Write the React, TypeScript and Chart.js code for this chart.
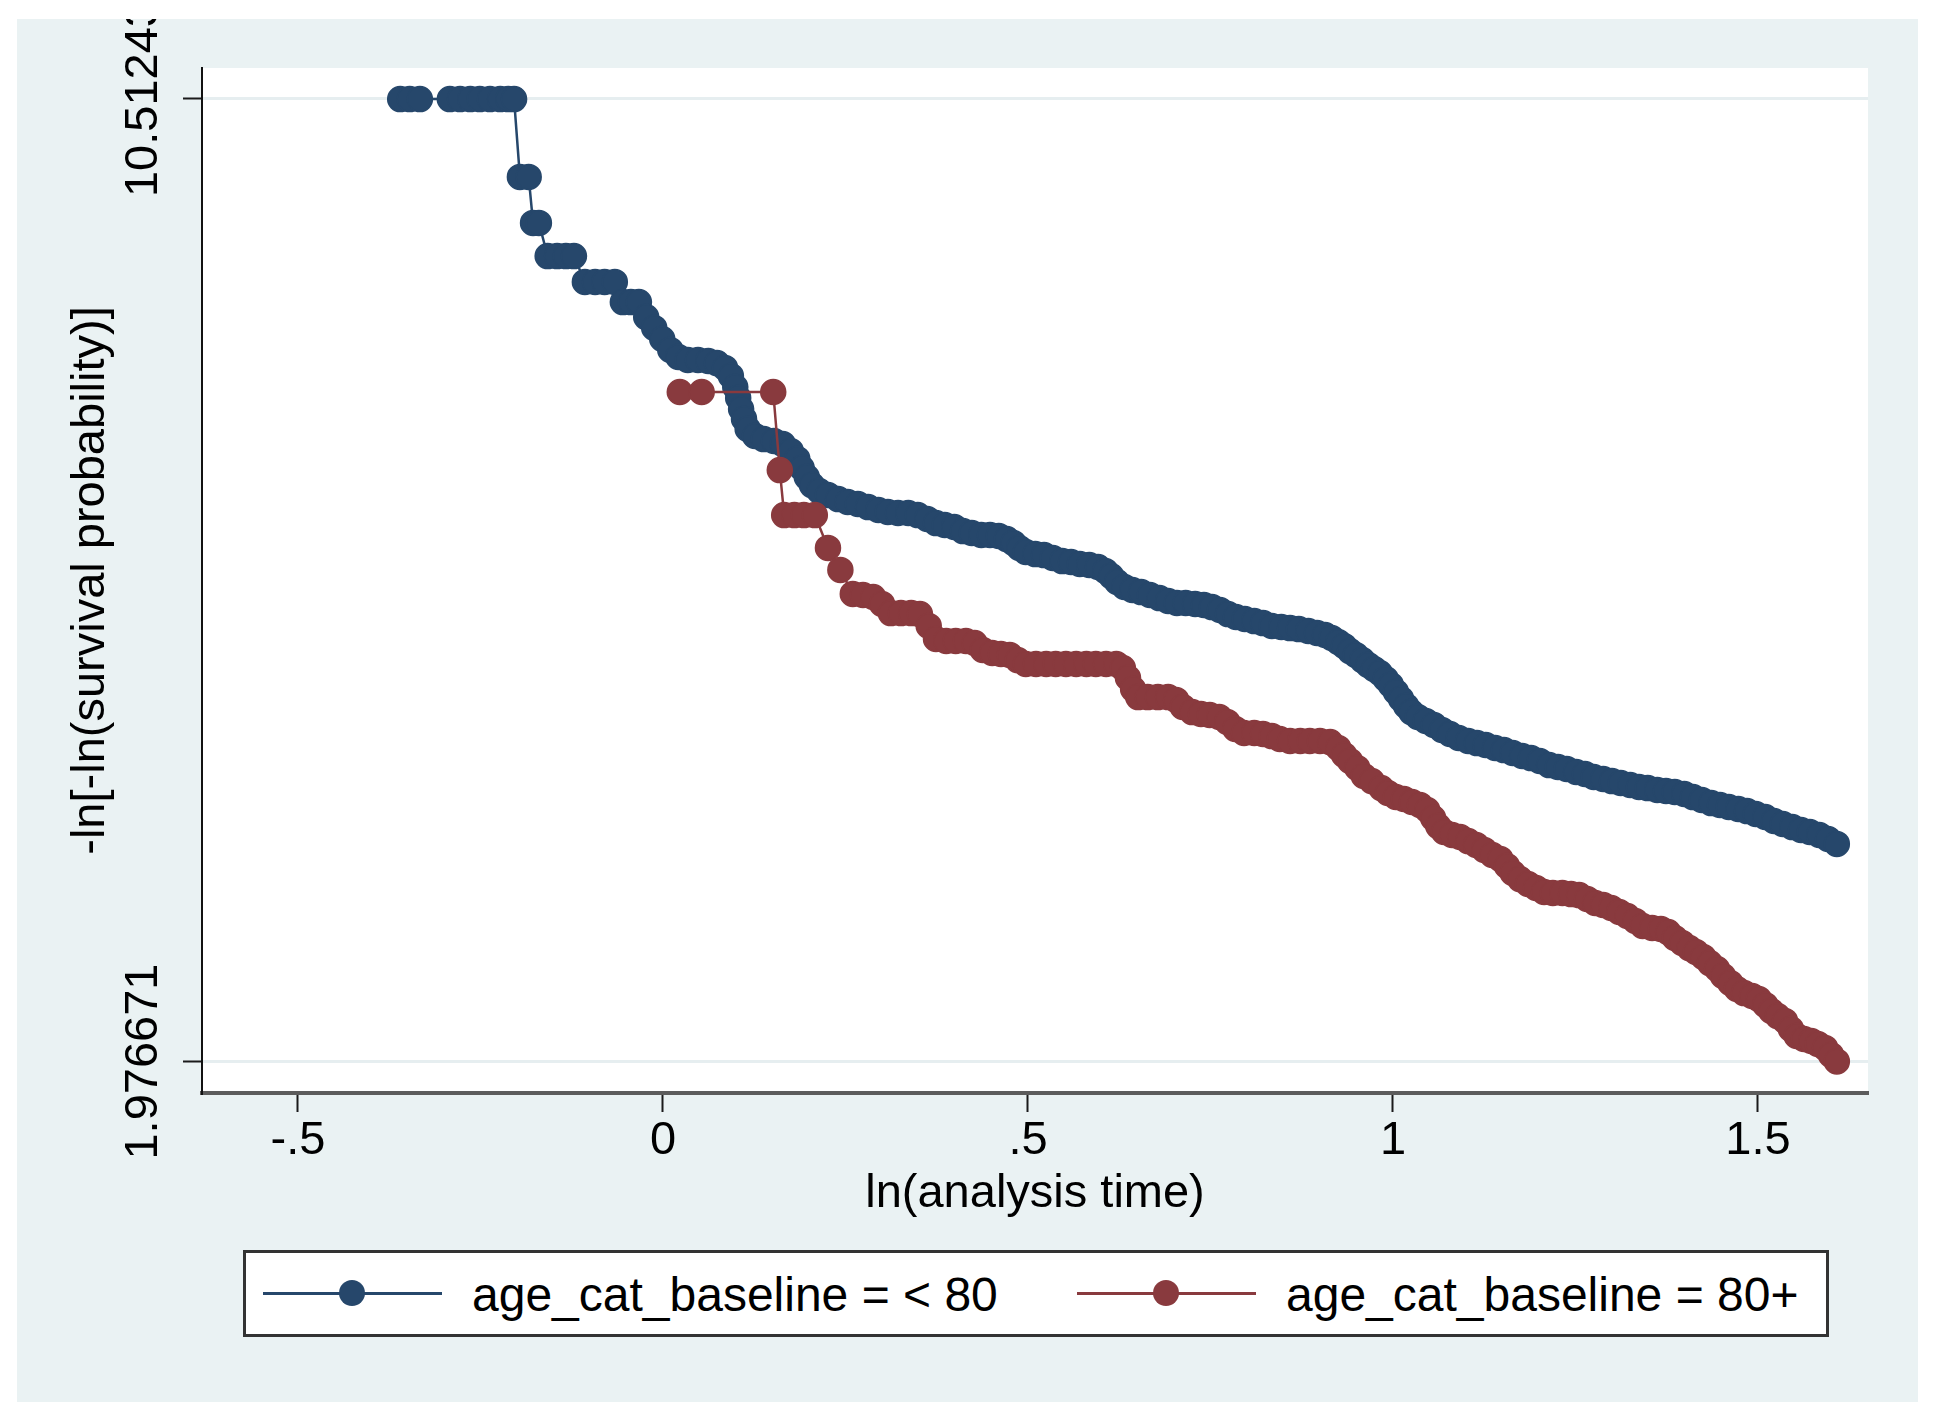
import { useEffect, useRef } from 'react';
import { Chart, registerables, Plugin } from 'chart.js';

Chart.register(...registerables);

// ln(analysis time) and -ln[-ln(S)], group age < 80
const blueX = [
  -0.36, -0.347, -0.333, -0.292, -0.278, -0.264, -0.251, -0.237, -0.223, -0.212,
  -0.204, -0.196, -0.184, -0.178, -0.17, -0.158, -0.145, -0.133, -0.122, -0.107,
  -0.093, -0.08, -0.066, -0.055, -0.044, -0.033,
  -0.023, -0.012, -0.001, 0.01, 0.021, 0.034, 0.048, 0.062, 0.074, 0.085,
  0.093, 0.099, 0.103, 0.107, 0.111, 0.116, 0.126, 0.138, 0.152, 0.164,
  0.175, 0.184, 0.19, 0.197, 0.204, 0.214, 0.226, 0.24, 0.253, 0.267,
  0.281, 0.295, 0.308, 0.322, 0.336, 0.349, 0.362, 0.374, 0.386, 0.399,
  0.411, 0.423, 0.436, 0.448, 0.46, 0.471, 0.48, 0.488, 0.497, 0.51,
  0.522, 0.534, 0.547, 0.559, 0.571, 0.584, 0.596, 0.606, 0.614, 0.622,
  0.632, 0.643, 0.655, 0.667, 0.68, 0.692, 0.704, 0.716, 0.729, 0.741,
  0.752, 0.763, 0.774, 0.785, 0.797, 0.81, 0.822, 0.834, 0.847, 0.859,
  0.871, 0.884, 0.896, 0.907, 0.916, 0.925, 0.933, 0.941, 0.949, 0.958,
  0.966, 0.974, 0.982, 0.99, 0.997, 1.004, 1.011, 1.018, 1.025, 1.034,
  1.045, 1.056, 1.067, 1.078, 1.09, 1.103, 1.115, 1.127, 1.14, 1.152,
  1.164, 1.177, 1.189, 1.201, 1.214, 1.226, 1.238, 1.251, 1.263, 1.275,
  1.288, 1.3, 1.312, 1.325, 1.337, 1.349, 1.362, 1.374, 1.386, 1.399,
  1.411, 1.423, 1.436, 1.448, 1.46, 1.473, 1.485, 1.497, 1.51, 1.522,
  1.534, 1.547, 1.559, 1.571, 1.584, 1.596, 1.608,
];
const blueY = [
  10.512, 10.512, 10.512, 10.512, 10.512, 10.512, 10.512, 10.512, 10.512, 10.512,
  10.512, 9.821, 9.821, 9.413, 9.413, 9.12, 9.12, 9.12, 9.12, 8.89,
  8.89, 8.89, 8.89, 8.712, 8.712, 8.712,
  8.579, 8.482, 8.384, 8.287, 8.225, 8.198, 8.198, 8.189, 8.171, 8.127,
  8.056, 7.958, 7.861, 7.763, 7.675, 7.586, 7.524, 7.497, 7.48, 7.453,
  7.391, 7.32, 7.24, 7.16, 7.089, 7.036, 7.001, 6.965, 6.939, 6.921,
  6.894, 6.868, 6.85, 6.841, 6.841, 6.823, 6.788, 6.752, 6.735, 6.717,
  6.681, 6.664, 6.646, 6.646, 6.637, 6.61, 6.575, 6.531, 6.495, 6.477,
  6.468, 6.442, 6.415, 6.407, 6.389, 6.38, 6.362, 6.327, 6.282, 6.229,
  6.185, 6.158, 6.14, 6.114, 6.087, 6.061, 6.043, 6.043, 6.034, 6.025,
  6.007, 5.981, 5.945, 5.919, 5.901, 5.883, 5.865, 5.839, 5.83, 5.821,
  5.812, 5.795, 5.777, 5.759, 5.733, 5.697, 5.662, 5.617, 5.582, 5.537,
  5.493, 5.458, 5.422, 5.369, 5.316, 5.254, 5.192, 5.13, 5.076, 5.032,
  4.997, 4.961, 4.917, 4.881, 4.846, 4.819, 4.801, 4.784, 4.757, 4.739,
  4.713, 4.686, 4.668, 4.642, 4.606, 4.589, 4.571, 4.544, 4.527, 4.5,
  4.482, 4.464, 4.447, 4.429, 4.411, 4.402, 4.385, 4.376, 4.367, 4.349,
  4.322, 4.296, 4.269, 4.252, 4.234, 4.216, 4.198, 4.172, 4.145, 4.11,
  4.083, 4.056, 4.03, 4.012, 3.986, 3.95, 3.906,
];

// group 80+
const redX = [
  0.023, 0.053, 0.151, 0.16, 0.166, 0.18, 0.193, 0.208, 0.226, 0.243,
  0.26, 0.274, 0.288, 0.3, 0.312, 0.326, 0.34, 0.352, 0.364, 0.374,
  0.388, 0.401, 0.415, 0.427, 0.438, 0.451, 0.463, 0.475, 0.486, 0.497,
  0.511, 0.525, 0.538, 0.552, 0.566, 0.58, 0.593, 0.607, 0.621, 0.63,
  0.637, 0.644, 0.651, 0.664, 0.678, 0.692, 0.703, 0.712, 0.725, 0.737,
  0.749, 0.762, 0.773, 0.784, 0.796, 0.81, 0.822, 0.834, 0.845, 0.859,
  0.873, 0.886, 0.9, 0.914, 0.925, 0.933, 0.941, 0.951, 0.96, 0.971,
  0.984, 0.993, 1.004, 1.015, 1.026, 1.037, 1.047, 1.055, 1.062, 1.07,
  1.081, 1.092, 1.103, 1.114, 1.125, 1.136, 1.147, 1.156, 1.164, 1.174,
  1.185, 1.196, 1.207, 1.219, 1.232, 1.244, 1.255, 1.266, 1.277, 1.288,
  1.299, 1.31, 1.321, 1.332, 1.342, 1.355, 1.367, 1.377, 1.386, 1.396,
  1.406, 1.415, 1.425, 1.434, 1.444, 1.452, 1.462, 1.471, 1.481, 1.492,
  1.501, 1.51, 1.518, 1.527, 1.537, 1.545, 1.553, 1.563, 1.573, 1.582,
  1.592, 1.6, 1.608,
];
const redY = [
  7.914, 7.914, 7.914, 7.222, 6.823, 6.823, 6.823, 6.823, 6.531, 6.336,
  6.123, 6.114, 6.096, 6.034, 5.954, 5.954, 5.954, 5.945, 5.839, 5.724,
  5.706, 5.706, 5.706, 5.688, 5.626, 5.6, 5.591, 5.582, 5.537, 5.502,
  5.502, 5.502, 5.502, 5.502, 5.502, 5.502, 5.502, 5.502, 5.502, 5.466,
  5.378, 5.28, 5.209, 5.209, 5.209, 5.209, 5.183, 5.121, 5.076, 5.059,
  5.05, 5.032, 4.988, 4.926, 4.89, 4.89, 4.881, 4.863, 4.837, 4.819,
  4.819, 4.819, 4.819, 4.81, 4.757, 4.695, 4.642, 4.58, 4.509, 4.464,
  4.402, 4.358, 4.323, 4.305, 4.278, 4.252, 4.207, 4.136, 4.065, 4.012,
  3.986, 3.968, 3.932, 3.897, 3.853, 3.808, 3.773, 3.711, 3.649, 3.595,
  3.551, 3.516, 3.48, 3.471, 3.471, 3.462, 3.453, 3.418, 3.383, 3.365,
  3.338, 3.303, 3.267, 3.223, 3.179, 3.161, 3.152, 3.125, 3.072, 3.028,
  2.983, 2.948, 2.904, 2.85, 2.797, 2.735, 2.673, 2.62, 2.584, 2.558,
  2.531, 2.478, 2.425, 2.38, 2.336, 2.265, 2.203, 2.177, 2.159, 2.132,
  2.097, 2.035, 1.977,
];

const xTicks = [-0.5, 0, 0.5, 1, 1.5];
const xTickLabels = ['-.5', '0', '.5', '1', '1.5'];
const yTicks = [1.976671, 10.51243];
const yTickLabels = ['1.976671', '10.51243'];

const seriesNames = ['age_cat_baseline = < 80', 'age_cat_baseline = 80+'];

const NAVY = '#26476B';
const MAROON = '#893A3E';
const FONT = "'Liberation Sans', Arial, Helvetica, sans-serif";

const plotBackground: Plugin<'scatter'> = {
  id: 'plotBackground',
  beforeDraw(chart) {
    const { ctx, chartArea } = chart;
    ctx.save();
    ctx.fillStyle = '#ffffff';
    ctx.fillRect(chartArea.left, chartArea.top, chartArea.width, chartArea.height);
    ctx.restore();
  },
};

function LegendItem({ left, color, label }: { left: number; color: string; label: string }) {
  return (
    <>
      <div style={{ position: 'absolute', left, top: 1291.5, width: 179, height: 3, background: color }} />
      <div
        style={{
          position: 'absolute',
          left: left + 89 - 13,
          top: 1293 - 13,
          width: 26,
          height: 26,
          borderRadius: '50%',
          background: color,
        }}
      />
      <div
        style={{
          position: 'absolute',
          left: left + 209,
          top: 1265,
          height: 60,
          lineHeight: '60px',
          fontSize: 48,
          fontFamily: FONT,
          color: '#000',
          whiteSpace: 'nowrap',
        }}
      >
        {label}
      </div>
    </>
  );
}

export default function App() {
  const canvasRef = useRef<HTMLCanvasElement>(null);

  useEffect(() => {
    if (!canvasRef.current) return;
    const font = { family: FONT, size: 47 };

    const chart = new Chart(canvasRef.current, {
      type: 'scatter',
      data: {
        datasets: [
          {
            label: seriesNames[0],
            data: blueX.map((x, i) => ({ x, y: blueY[i] })),
            showLine: true,
            borderColor: NAVY,
            backgroundColor: NAVY,
            borderWidth: 2.5,
            pointRadius: 12.5,
            pointBorderWidth: 1.5,
            pointBorderColor: NAVY,
            pointBackgroundColor: NAVY,
            order: 2,
          },
          {
            label: seriesNames[1],
            data: redX.map((x, i) => ({ x, y: redY[i] })),
            showLine: true,
            borderColor: MAROON,
            backgroundColor: MAROON,
            borderWidth: 2.5,
            pointRadius: 12.5,
            pointBorderWidth: 1.5,
            pointBorderColor: MAROON,
            pointBackgroundColor: MAROON,
            order: 1,
          },
        ],
      },
      options: {
        responsive: false,
        animation: false,
        layout: { padding: { top: 49, right: 50, bottom: 0, left: 0 } },
        plugins: {
          legend: { display: false },
          tooltip: { enabled: false },
        },
        scales: {
          x: {
            type: 'linear',
            min: -0.6315,
            max: 1.6507,
            afterBuildTicks: (s) => {
              s.ticks = xTicks.map((v) => ({ value: v }));
            },
            afterFit: (s: any) => {
              s.height = 309;
              s.paddingLeft = 0;
              s.paddingRight = 0;
            },
            ticks: {
              autoSkip: false,
              minRotation: 0,
              maxRotation: 0,
              padding: 0.5,
              color: '#000',
              font,
              callback: (_v, i) => xTickLabels[i],
            },
            grid: { drawOnChartArea: false, drawTicks: true, tickLength: 19, tickWidth: 2, tickColor: '#1a1a1a' },
            border: { display: true, color: '#5c5c5c', width: 4 },
            title: {
              display: true,
              text: 'ln(analysis time)',
              color: '#000',
              font,
              padding: { top: 0, bottom: 180 },
            },
          },
          y: {
            type: 'linear',
            min: 1.6973,
            max: 10.7873,
            afterBuildTicks: (s) => {
              s.ticks = yTicks.map((v) => ({ value: v }));
            },
            afterFit: (s: any) => {
              s.width = 185;
              s.paddingTop = 0;
              s.paddingBottom = 0;
            },
            ticks: {
              autoSkip: false,
              minRotation: 90,
              maxRotation: 90,
              padding: 39,
              labelOffset: -98,
              crossAlign: 'near',
              color: '#000',
              font,
              callback: (_v, i) => yTickLabels[i],
            },
            grid: { color: '#E6EEF0', lineWidth: 3, drawTicks: true, tickLength: 19, tickWidth: 2, tickColor: '#1a1a1a' },
            border: { display: true, color: '#111', width: 2 },
            title: {
              display: true,
              text: '-ln[-ln(survival probability)]',
              color: '#000',
              font,
              padding: { top: 45.5, bottom: 0 },
            },
          },
        },
      },
      plugins: [plotBackground],
    });

    return () => {
      chart.destroy();
    };
  }, []);

  return (
    <div style={{ position: 'absolute', left: 0, top: 0, width: 1940, height: 1421, background: '#fff', overflow: 'hidden' }}>
      <div style={{ position: 'absolute', left: 17, top: 19, width: 1901, height: 1383, background: '#EAF2F3' }}>
        <canvas ref={canvasRef} width={1901} height={1383} style={{ display: 'block' }} />
      </div>
      <div
        style={{
          position: 'absolute',
          left: 243,
          top: 1250,
          width: 1586,
          height: 87,
          boxSizing: 'border-box',
          border: '3px solid #333',
          background: '#fff',
        }}
      />
      <LegendItem left={263} color={NAVY} label={seriesNames[0]} />
      <LegendItem left={1077} color={MAROON} label={seriesNames[1]} />
    </div>
  );
}
